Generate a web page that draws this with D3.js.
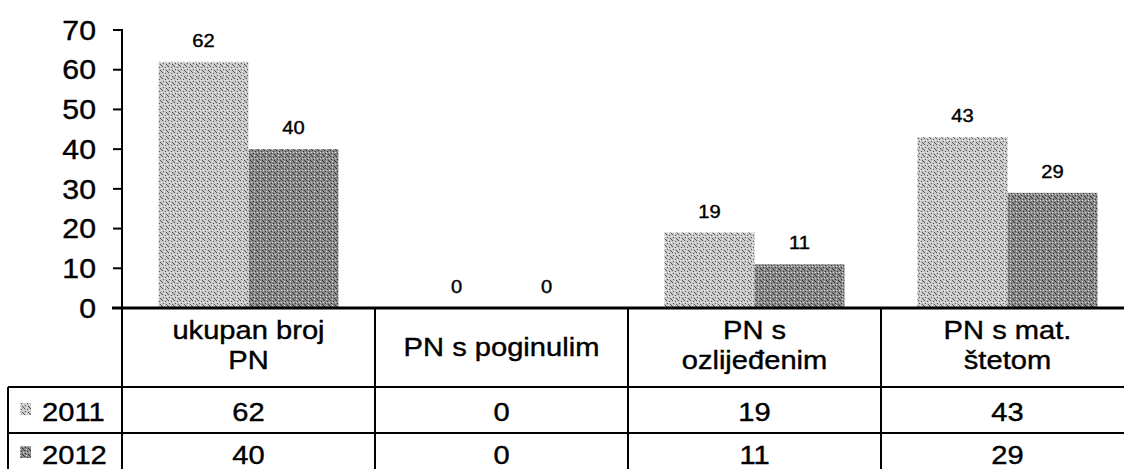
<!DOCTYPE html>
<html>
<head>
<meta charset="utf-8">
<script src="https://cdn.jsdelivr.net/npm/d3@7"></script>
<style>
  body { margin: 0; background: #fff; }
  svg text { font-family: "Liberation Sans", Arial, sans-serif; fill: #000; stroke: #000; stroke-width: 0.4px; }
</style>
</head>
<body>
<div id="chart"></div>
<script>
// chart data
const categories = ['ukupan broj PN', 'PN s poginulim', 'PN s ozlijeđenim', 'PN s mat. štetom'];
const headerLines = [['ukupan broj', 'PN'], ['PN s poginulim'], ['PN s', 'ozlijeđenim'], ['PN s mat.', 'štetom']];
const years = ['2011', '2012'];
const values2011 = [62, 0, 19, 43];
const values2012 = [40, 0, 11, 29];
const yTicks = [0, 10, 20, 30, 40, 50, 60, 70];

const width = 1124, height = 469;
const sx = 1.12; // the scan is a bit stretched horizontally

const svg = d3.select('#chart').append('svg')
  .attr('width', width)
  .attr('height', height);

// stippled fills for the two series
const defs = svg.append('defs');
const makePattern = (id, base, dark, light) => {
  const p = defs.append('pattern')
    .attr('id', id)
    .attr('patternUnits', 'userSpaceOnUse')
    .attr('width', 6).attr('height', 6);
  p.append('rect').attr('width', 6).attr('height', 6).attr('fill', base);
  // fixed dot layout, not data
  const dots = [[0,0,dark],[3,1,dark],[1,3,dark],[4,4,dark],[5,2,light],[2,5,light],[2,2,light],[5,5,dark]];
  dots.forEach(([x, y, c]) => p.append('rect').attr('x', x).attr('y', y).attr('width', 1).attr('height', 1).attr('fill', c));
};
makePattern('pat2011', '#c8c8c8', '#555', '#f0f0f0');
makePattern('pat2012', '#8a8a8a', '#333', '#d8d8d8');

const colW = 253;
const x0 = d3.scaleBand()
  .domain(categories)
  .range([122, 122 + colW * categories.length])
  .paddingInner(0).paddingOuter(0);

const x1 = d3.scaleBand()
  .domain(years)
  .range([36.5, 216.5]);

const y = d3.scaleLinear()
  .domain([0, 70])
  .range([308, 30]);

const series = [
  { year: '2011', values: values2011, fill: 'url(#pat2011)' },
  { year: '2012', values: values2012, fill: 'url(#pat2012)' }
];

// bars
series.forEach(s => {
  svg.append('g').selectAll('rect')
    .data(s.values)
    .enter().append('rect')
    .attr('x', (d, i) => x0(categories[i]) + x1(s.year))
    .attr('y', d => y(d))
    .attr('width', x1.bandwidth())
    .attr('height', d => y(0) - y(d))
    .attr('fill', s.fill);

  // data labels
  svg.append('g').selectAll('text')
    .data(s.values)
    .enter().append('text')
    .attr('transform', (d, i) => `translate(${x0(categories[i]) + x1(s.year) + x1.bandwidth() / 2},${y(d) - 15}) scale(${sx},1)`)
    .attr('text-anchor', 'middle')
    .style('font-size', '18px')
    .text(d => d);
});

// y axis
const yAxis = svg.append('g');
yAxis.append('line')
  .attr('x1', 122).attr('x2', 122)
  .attr('y1', y(70) - 1).attr('y2', height)
  .attr('stroke', '#000').attr('stroke-width', 2);
yAxis.selectAll('.tick')
  .data(yTicks)
  .enter().append('line')
  .attr('x1', 113).attr('x2', 122)
  .attr('y1', d => y(d)).attr('y2', d => y(d))
  .attr('stroke', '#000').attr('stroke-width', 2);
yAxis.selectAll('text')
  .data(yTicks)
  .enter().append('text')
  .attr('transform', d => `translate(96,${y(d)}) scale(${sx},1)`)
  .attr('text-anchor', 'end')
  .attr('dy', '0.36em')
  .style('font-size', '27px')
  .text(d => d);

// data table under the plot
const rowTop = 387, rowMid = 433;
const table = svg.append('g');
table.append('line')
  .attr('x1', 112).attr('x2', width)
  .attr('y1', y(0)).attr('y2', y(0))
  .attr('stroke', '#000').attr('stroke-width', 3);
[rowTop, rowMid].forEach(ry => {
  table.append('line')
    .attr('x1', 8).attr('x2', width)
    .attr('y1', ry).attr('y2', ry)
    .attr('stroke', '#000').attr('stroke-width', 2);
});
table.append('line')
  .attr('x1', 8).attr('x2', 8)
  .attr('y1', rowTop).attr('y2', height)
  .attr('stroke', '#000').attr('stroke-width', 2);
categories.slice(1).forEach(c => {
  table.append('line')
    .attr('x1', x0(c)).attr('x2', x0(c))
    .attr('y1', y(0)).attr('y2', height)
    .attr('stroke', '#000').attr('stroke-width', 2);
});

// header cells
headerLines.forEach((lines, i) => {
  const cx = x0(categories[i]) + colW / 2;
  const base = lines.length === 1 ? [356] : [339, 369];
  lines.forEach((t, j) => {
    table.append('text')
      .attr('transform', `translate(${cx},${base[j]}) scale(${sx},1)`)
      .attr('text-anchor', 'middle')
      .style('font-size', '26px')
      .text(t);
  });
});

// value rows with legend keys
const rowBase = [421, 464];
series.forEach((s, r) => {
  table.append('rect')
    .attr('x', 20).attr('y', rowBase[r] - 18)
    .attr('width', 11).attr('height', 12)
    .attr('fill', s.fill);
  table.append('text')
    .attr('transform', `translate(42,${rowBase[r]}) scale(${sx},1)`)
    .style('font-size', '26px')
    .text(s.year);
  s.values.forEach((v, i) => {
    table.append('text')
      .attr('transform', `translate(${x0(categories[i]) + colW / 2},${rowBase[r]}) scale(${sx},1)`)
      .attr('text-anchor', 'middle')
      .style('font-size', '26px')
      .text(v);
  });
});
</script>
</body>
</html>
